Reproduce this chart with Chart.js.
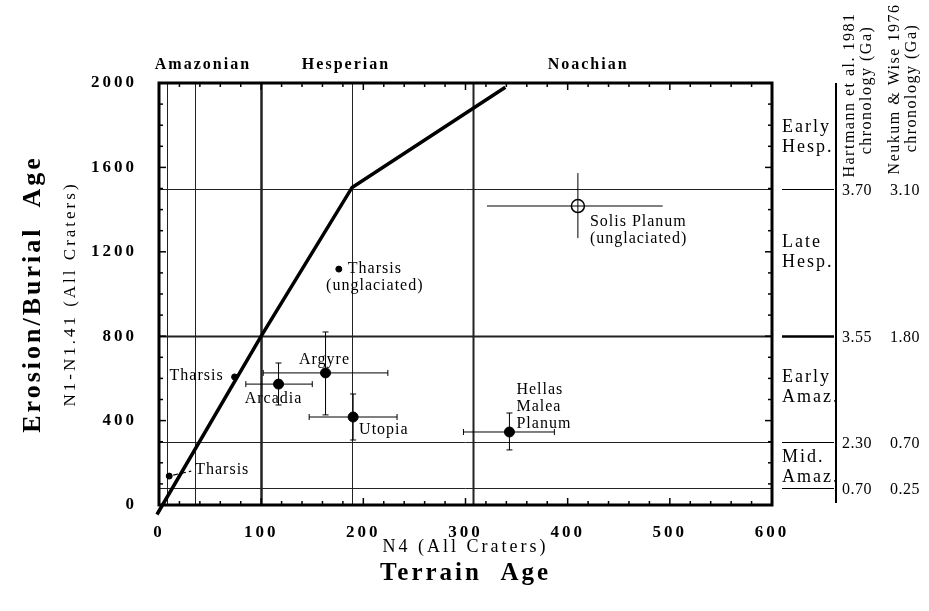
<!DOCTYPE html>
<html>
<head>
<meta charset="utf-8">
<script src="https://cdn.jsdelivr.net/npm/chart.js@4"></script>
<style>
  body { margin: 0; background: #fff; }
</style>
</head>
<body>
<canvas id="myChart" width="929" height="611"></canvas>
<script>
  // martian periods along the N4 axis
  const periods = ['Amazonian', 'Hesperian', 'Noachian'];
  const periodN4 = [43, 183, 420];
  const boundaryN4 = [8, 35, 100, 189, 307];

  // epoch boundaries on the N1-N1.41 axis with both chronologies (Ga)
  const boundaryN1 = [80, 300, 800, 1500];
  const hartmannGa = ['0.70', '2.30', '3.55', '3.70'];
  const neukumGa = ['0.25', '0.70', '1.80', '3.10'];
  const epochs = [['Mid.', 'Amaz.'], ['Early', 'Amaz.'], ['Late', 'Hesp.'], ['Early', 'Hesp.']];
  const epochN1 = [180, 559, 1199, 1742];

  // equal terrain / burial age line
  const trendN4 = [-2, 100, 189, 339];
  const trendN1 = [-45, 800, 1505, 1980];

  // Tharsis counts (no error bars)
  const tharsisNames = ['Tharsis', 'Tharsis', 'Tharsis\n(unglaciated)'];
  const tharsisN4 = [10, 74, 176];
  const tharsisN1 = [137, 607, 1118];

  // basins with error bars
  const basinNames = ['Arcadia', 'Argyre', 'Utopia', 'Hellas\nMalea\nPlanum'];
  const basinN4 = [117, 163, 190, 343];
  const basinN1 = [573, 626, 417, 346];
  const basinN4Lo = [85, 102, 147, 298];
  const basinN4Hi = [150, 224, 233, 387];
  const basinN1Lo = [474, 427, 308, 261];
  const basinN1Hi = [673, 820, 526, 436];

  // Solis Planum
  const solisNames = ['Solis Planum\n(unglaciated)'];
  const solisN4 = [410];
  const solisN1 = [1417];
  const solisN4Lo = [321];
  const solisN4Hi = [493];
  const solisN1Lo = [1265];
  const solisN1Hi = [1573];

  const SERIF = '"Liberation Serif", "Times New Roman", serif';

  function pts(xs, ys, names, xlo, xhi, ylo, yhi) {
    return xs.map((x, i) => ({
      x: x, y: ys[i], name: names ? names[i] : null,
      xLo: xlo ? xlo[i] : null, xHi: xhi ? xhi[i] : null,
      yLo: ylo ? ylo[i] : null, yHi: yhi ? yhi[i] : null
    }));
  }

  function txt(c, s, x, y, font, align, spacing) {
    c.save();
    c.font = font;
    c.textAlign = align;
    c.textBaseline = 'middle';
    c.letterSpacing = (spacing || 0) + 'px';
    c.fillStyle = '#000';
    c.fillText(s, x, y);
    c.restore();
  }

  function line(c, x1, y1, x2, y2, w) {
    c.lineWidth = w;
    c.beginPath();
    c.moveTo(x1, y1);
    c.lineTo(x2, y2);
    c.stroke();
  }

  const figure = {
    id: 'figure',
    beforeDraw(chart) {
      chart.ctx.letterSpacing = '3px';
    },
    beforeDatasetsDraw(chart) {
      const c = chart.ctx, a = chart.chartArea;
      const xs = chart.scales.x, ys = chart.scales.y;
      const vW = [1, 1, 2.5, 1, 2];
      const hW = [1, 1, 2, 1];
      c.save();
      c.strokeStyle = '#222';
      boundaryN4.forEach((v, i) => {
        const px = Math.round(xs.getPixelForValue(v)) + 0.5;
        line(c, px, a.top, px, a.bottom, vW[i]);
      });
      boundaryN1.forEach((v, i) => {
        const py = Math.round(ys.getPixelForValue(v)) + 0.5;
        line(c, a.left, py, a.right, py, hW[i]);
      });

      // error bars
      c.strokeStyle = '#000';
      chart.data.datasets.forEach(ds => {
        if (!ds.errorBars) return;
        ds.data.forEach(p => {
          const px = xs.getPixelForValue(p.x), py = ys.getPixelForValue(p.y);
          const x1 = xs.getPixelForValue(p.xLo), x2 = xs.getPixelForValue(p.xHi);
          const y1 = ys.getPixelForValue(p.yLo), y2 = ys.getPixelForValue(p.yHi);
          line(c, x1, py, x2, py, 1);
          line(c, px, y1, px, y2, 1);
          if (ds.caps) {
            line(c, x1, py - 3, x1, py + 3, 1);
            line(c, x2, py - 3, x2, py + 3, 1);
            line(c, px - 3, y1, px + 3, y1, 1);
            line(c, px - 3, y2, px + 3, y2, 1);
          }
        });
      });
      c.restore();
    },
    afterDatasetsDraw(chart) {
      const c = chart.ctx, a = chart.chartArea;
      const xs = chart.scales.x, ys = chart.scales.y;
      c.save();
      c.strokeStyle = '#000';

      // frame with inward ticks
      c.lineWidth = 3;
      c.strokeRect(a.left, a.top, a.right - a.left, a.bottom - a.top);
      for (let v = xs.min; v <= xs.max; v += 20) {
        const px = xs.getPixelForValue(v);
        const len = v % 100 === 0 ? 7 : 4;
        line(c, px, a.top, px, a.top + len, 1.5);
        line(c, px, a.bottom, px, a.bottom - len, 1.5);
      }
      for (let v = ys.min; v <= ys.max; v += 100) {
        const py = ys.getPixelForValue(v);
        const len = v % 400 === 0 ? 7 : 4;
        line(c, a.left, py, a.left + len, py, 1.5);
        line(c, a.right, py, a.right - len, py, 1.5);
      }

      // point labels
      const labelFont = '16px ' + SERIF;
      chart.data.datasets.forEach(ds => {
        if (!ds.labelPos) return;
        ds.data.forEach((p, i) => {
          const lp = ds.labelPos[i];
          const px = xs.getPixelForValue(p.x), py = ys.getPixelForValue(p.y);
          p.name.split('\n').forEach((s, k) => {
            txt(c, s, px + lp.dx, py + lp.dy + k * 17, labelFont, lp.align, 1);
          });
          if (lp.leader) {
            c.save();
            c.setLineDash([5, 3]);
            line(c, px + 4, py - 1, px + lp.dx - 4, py + lp.dy + 1, 1.2);
            c.restore();
          }
        });
      });

      // period names above the frame
      periods.forEach((s, i) => {
        txt(c, s, xs.getPixelForValue(periodN4[i]), a.top - 18, 'bold 16px ' + SERIF, 'center', 2);
      });

      // chronology panel
      const axisX = a.right + 64;
      line(c, axisX, a.top, axisX, a.bottom - 2, 2);
      boundaryN1.forEach((v, i) => {
        const py = Math.round(ys.getPixelForValue(v)) + 0.5;
        line(c, a.right + 10, py, axisX - 2, py, v === 800 ? 2.5 : 1);
        txt(c, hartmannGa[i], axisX + 6, py + 1, '16px ' + SERIF, 'left', 0.5);
        txt(c, neukumGa[i], axisX + 54, py + 1, '16px ' + SERIF, 'left', 0.5);
      });
      epochs.forEach((pair, i) => {
        const py = ys.getPixelForValue(epochN1[i]);
        txt(c, pair[0], a.right + 10, py - 10, '18px ' + SERIF, 'left', 2);
        txt(c, pair[1], a.right + 10, py + 10, '18px ' + SERIF, 'left', 2);
      });

      const heads = [
        ['Hartmann et al. 1981', 850, 95],
        ['chronology (Ga)', 867, 90],
        ['Neukum & Wise 1976', 895, 89],
        ['chronology (Ga)', 912, 88]
      ];
      heads.forEach(h => {
        c.save();
        c.translate(h[1], h[2]);
        c.rotate(-Math.PI / 2);
        txt(c, h[0], 0, 0, '16px ' + SERIF, 'center', 1.5);
        c.restore();
      });
      c.restore();
    }
  };

  const plain = v => String(v);

  const ctx = document.getElementById('myChart');
  new Chart(ctx, {
    type: 'scatter',
    data: {
      datasets: [{
        type: 'line',
        label: 'Terrain age = burial age',
        data: pts(trendN4, trendN1),
        borderColor: '#000',
        borderWidth: 3.5,
        pointRadius: 0,
        clip: false
      }, {
        label: 'Tharsis',
        data: pts(tharsisN4, tharsisN1, tharsisNames),
        pointRadius: 3,
        backgroundColor: '#000',
        borderColor: '#000',
        labelPos: [
          { dx: 26, dy: -6, align: 'left', leader: true },
          { dx: -11, dy: -1, align: 'right' },
          { dx: 36, dy: 0, align: 'center' }
        ]
      }, {
        label: 'Basins',
        data: pts(basinN4, basinN1, basinNames, basinN4Lo, basinN4Hi, basinN1Lo, basinN1Hi),
        pointRadius: 5,
        backgroundColor: '#000',
        borderColor: '#000',
        errorBars: true,
        caps: true,
        labelPos: [
          { dx: -5, dy: 15, align: 'center' },
          { dx: -1, dy: -13, align: 'center' },
          { dx: 6, dy: 13, align: 'left' },
          { dx: 7, dy: -42, align: 'left' }
        ]
      }, {
        label: 'Solis Planum',
        data: pts(solisN4, solisN1, solisNames, solisN4Lo, solisN4Hi, solisN1Lo, solisN1Hi),
        pointRadius: 6.5,
        backgroundColor: 'rgba(0,0,0,0)',
        borderColor: '#000',
        borderWidth: 1.5,
        errorBars: true,
        caps: false,
        labelPos: [
          { dx: 12, dy: 16, align: 'left' }
        ]
      }]
    },
    options: {
      responsive: false,
      animation: false,
      events: [],
      layout: { padding: { top: 83, right: 157, bottom: 10, left: 0 } },
      plugins: {
        legend: { display: false },
        tooltip: { enabled: false }
      },
      scales: {
        x: {
          type: 'linear',
          position: 'bottom',
          weight: 0,
          min: 0,
          max: 600,
          grid: { display: false, drawTicks: false },
          border: { display: false },
          ticks: {
            stepSize: 100,
            padding: 17,
            maxRotation: 0,
            color: '#000',
            callback: plain,
            font: { family: SERIF, size: 17, weight: 'bold' }
          },
          title: {
            display: true,
            text: 'N4 (All Craters)',
            color: '#000',
            font: { family: SERIF, size: 18 },
            padding: { top: 0, bottom: 5 }
          },
          afterFit: s => { s.height = 58; }
        },
        x2: {
          type: 'linear',
          position: 'bottom',
          weight: 1,
          grid: { display: false, drawTicks: false },
          border: { display: false },
          ticks: { display: false },
          title: {
            display: true,
            text: 'Terrain  Age',
            color: '#000',
            font: { family: SERIF, size: 25, weight: 'bold' },
            padding: { top: 0, bottom: 12 }
          },
          afterFit: s => { s.height = 38; }
        },
        y: {
          type: 'linear',
          position: 'left',
          weight: 0,
          min: 0,
          max: 2000,
          grid: { display: false, drawTicks: false },
          border: { display: false },
          ticks: {
            stepSize: 400,
            padding: 22,
            color: '#000',
            callback: plain,
            font: { family: SERIF, size: 17, weight: 'bold' }
          },
          title: {
            display: true,
            text: 'N1-N1.41 (All Craters)',
            color: '#000',
            font: { family: SERIF, size: 17 },
            padding: { top: 6, bottom: 0 }
          },
          afterFit: s => { s.width = 105; }
        },
        y2: {
          type: 'linear',
          position: 'left',
          weight: 1,
          grid: { display: false, drawTicks: false },
          border: { display: false },
          ticks: { display: false },
          title: {
            display: true,
            text: 'Erosion/Burial  Age',
            color: '#000',
            font: { family: SERIF, size: 26, weight: 'bold' },
            padding: { top: 18, bottom: 0 }
          },
          afterFit: s => { s.width = 54; }
        }
      }
    },
    plugins: [figure]
  });
</script>
</body>
</html>
